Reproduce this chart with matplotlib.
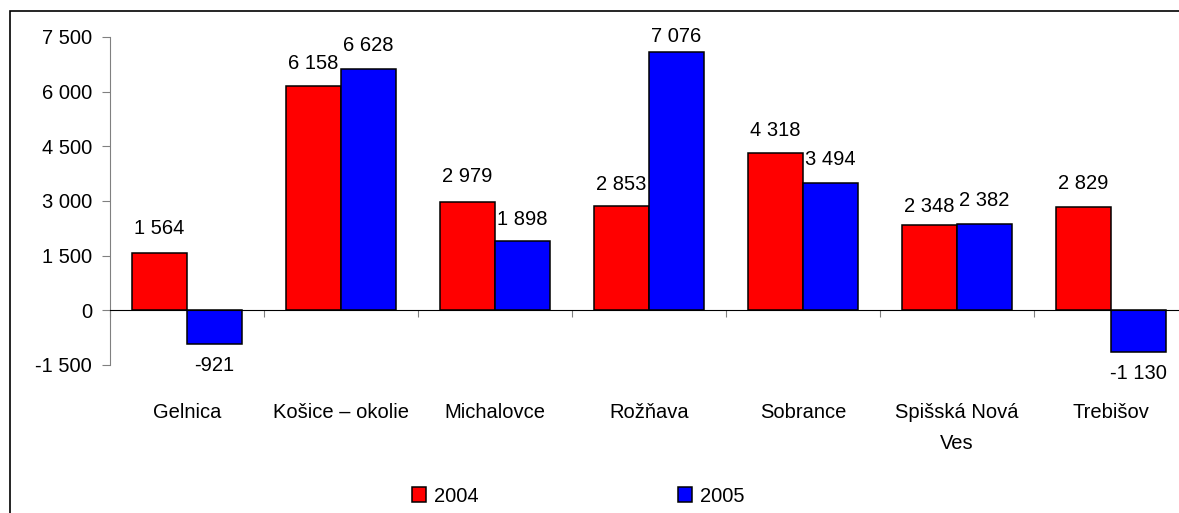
import matplotlib
matplotlib.use("Agg")
import matplotlib.pyplot as plt
import numpy as np
from matplotlib.patches import Rectangle

plt.rcParams['font.family'] = ['Liberation Sans', 'DejaVu Sans']

# data
districts = ["Gelnica", "Košice – okolie", "Michalovce", "Rožňava",
             "Sobrance", "Spišská Nová\nVes", "Trebišov"]
y2004 = [1564, 6158, 2979, 2853, 4318, 2348, 2829]
y2005 = [-921, 6628, 1898, 7076, 3494, 2382, -1130]
series_names = ["2004", "2005"]
yticks = [-1500, 0, 1500, 3000, 4500, 6000, 7500]

# small manual nudges of a few value labels (points), like in the source
nudge_2004 = [0, -2, 0, -2, -2, -5, -1]
nudge_2005 = [0, -1, -2, -6, -1, -1, 0]


def fmt(v):
    return f"{v:,}".replace(",", " ")


W, H = 1179, 513
fig = plt.figure(figsize=(W / 100, H / 100), dpi=100)
# axes box in pixels: left 110, right 1188, top 37, bottom 365
ax = fig.add_axes([110 / W, 1 - 365 / H, (1188 - 110) / W, (365 - 37) / H])

# outer chart frame
fig.patches.append(Rectangle((10 / W, -0.1), 1.2, 1 - 11 / H + 0.1,
                             transform=fig.transFigure, fill=False,
                             edgecolor="black", lw=1.2))

x = np.arange(len(districts))
bw = 110 / 154 / 2
fs = 14.5

b1 = ax.bar(x - bw / 2, y2004, bw, color="#ff0000", edgecolor="black",
            lw=1.1, label=series_names[0])
b2 = ax.bar(x + bw / 2, y2005, bw, color="#0000ff", edgecolor="black",
            lw=1.1, label=series_names[1])

for bars, vals, nudges in ((b1, y2004, nudge_2004), (b2, y2005, nudge_2005)):
    for r, v, n in zip(bars, vals, nudges):
        cx = r.get_x() + r.get_width() / 2
        if v >= 0:
            ax.annotate(fmt(v), (cx, v), xytext=(0, 11 + n), textcoords="offset points",
                        ha="center", va="bottom", fontsize=fs)
        else:
            ax.annotate(fmt(v), (cx, v), xytext=(0, -9), textcoords="offset points",
                        ha="center", va="top", fontsize=fs)

ax.set_xlim(-0.5, len(districts) - 0.5)
ax.set_ylim(-1500, 7500)
ax.set_yticks(yticks)
ax.set_yticklabels([fmt(t) for t in yticks], fontsize=fs)

ax.spines["top"].set_visible(False)
ax.spines["right"].set_visible(False)
ax.spines["left"].set_color("#808080")
ax.spines["bottom"].set_position(("data", 0))
ax.spines["bottom"].set_color("black")
ax.tick_params(axis="y", length=6, color="#808080", pad=7)

ax.set_xticks(np.arange(len(districts) + 1) - 0.5)
ax.set_xticklabels([])
ax.tick_params(axis="x", length=5, color="#808080")

for i, name in enumerate(districts):
    ax.annotate(name, (i, 0), xycoords=("data", "axes fraction"),
                xytext=(0, -27), textcoords="offset points",
                ha="center", va="top", fontsize=fs, linespacing=1.85)

fig.legend(handles=[b1, b2], labels=series_names, loc="center",
           bbox_to_anchor=(578 / W, 1 - 496 / H), ncol=2, frameon=False,
           fontsize=fs, handlelength=0.7, handleheight=0.7,
           handletextpad=0.4, columnspacing=9.9)

fig.savefig("out.png", dpi=100)
